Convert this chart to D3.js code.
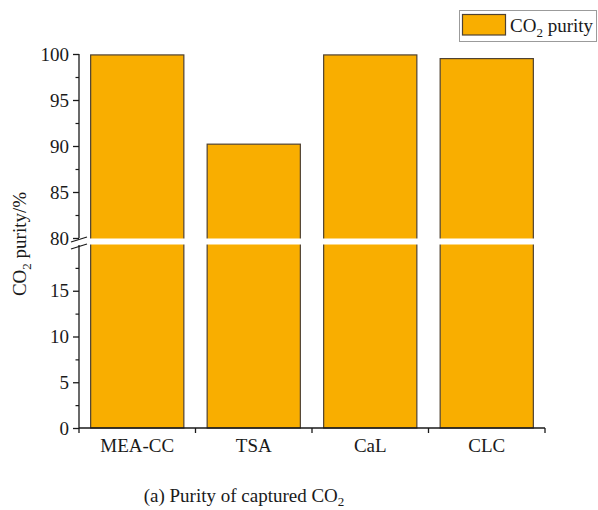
<!DOCTYPE html>
<html>
<head>
<meta charset="utf-8">
<script src="https://cdn.jsdelivr.net/npm/d3@7"></script>
<style>
  html, body { margin: 0; padding: 0; background: #fff; }
  svg { display: block; font-family: "Liberation Serif", "Times New Roman", serif; }
</style>
</head>
<body>
<svg id="chart" width="598" height="510"></svg>
<script>
// Purity of captured CO2 per capture technology
const categories = ["MEA-CC", "TSA", "CaL", "CLC"];
const purity = [99.9, 90.2, 99.9, 99.5];
const upperTicks = [80, 85, 90, 95, 100];
const lowerTicks = [0, 5, 10, 15];
const upperMinor = [82.5, 87.5, 92.5, 97.5];
const lowerMinor = [2.5, 7.5, 12.5, 17.5];

const svg = d3.select("#chart");
const FILL = "#F9AE00", EDGE = "#4f4232", INK = "#1a1a1a";
const FONT = 19;

const x0 = 79, x1 = 545;
const yBottom = 428, yTop = 54, gapTop = 238, gapBottom = 245;

// broken axis: 0–20 below the gap, 80–100 above it
const y = d3.scaleLinear().domain([0, 20, 80, 100]).range([yBottom, gapBottom, gapTop, yTop]);
const yUpper = d3.scaleLinear().domain([80, 100]).range([gapTop, yTop]);
const yLower = d3.scaleLinear().domain([0, 20]).range([yBottom, gapBottom]);

const x = d3.scaleBand().domain(categories).range([x0, x1]).paddingInner(0.2).paddingOuter(0.1);

// bars
svg.append("g").selectAll("rect").data(categories).join("rect")
  .attr("x", d => x(d))
  .attr("y", (d, i) => y(purity[i]))
  .attr("width", x.bandwidth())
  .attr("height", (d, i) => y(0) - y(purity[i]))
  .attr("fill", FILL)
  .attr("stroke", EDGE)
  .attr("stroke-width", 1.2);

// white band marking the break
svg.append("rect")
  .attr("x", x0 + 3).attr("y", y(80) + 0.5)
  .attr("width", x1 - x0).attr("height", y(20) - y(80) - 1)
  .attr("fill", "#fff");

// y axes (two segments)
function drawY(scale, ticks, minor) {
  const g = svg.append("g").attr("transform", `translate(${x0},0)`);
  g.append("line").attr("x1", 0).attr("x2", 0)
    .attr("y1", scale.range()[0]).attr("y2", scale.range()[1])
    .attr("stroke", INK).attr("stroke-width", 1.3);
  const ax = d3.axisLeft(scale).tickValues(ticks).tickSize(6).tickPadding(4).tickFormat(d3.format("d"));
  const a = g.append("g").call(ax).attr("font-family", null);
  a.select(".domain").remove();
  a.selectAll("line").attr("stroke", INK).attr("stroke-width", 1.3);
  a.selectAll("text").attr("font-size", FONT).attr("fill", INK);
  const m = g.append("g").call(d3.axisLeft(scale).tickValues(minor).tickSize(3.5).tickFormat(""));
  m.select(".domain").remove();
  m.selectAll("line").attr("stroke", INK).attr("stroke-width", 1.2);
}
drawY(yUpper, upperTicks, upperMinor);
drawY(yLower, lowerTicks, lowerMinor);

// break marks on the y axis
const slash = svg.append("g").attr("stroke", INK).attr("stroke-width", 1.3);
[y(80) + 1.5, y(20) + 1.5].forEach(cy => {
  slash.append("line").attr("x1", x0 - 8).attr("y1", cy + 2.5).attr("x2", x0 + 8).attr("y2", cy - 2.5);
});

// x axis
const gx = svg.append("g").attr("transform", `translate(0,${yBottom})`);
gx.append("line").attr("x1", x0).attr("x2", x1).attr("y1", 0).attr("y2", 0)
  .attr("stroke", INK).attr("stroke-width", 1.3);
const bounds = d3.range(categories.length + 1).map(i => x0 + i * x.step());
gx.selectAll("line.tk").data(bounds).join("line").attr("class", "tk")
  .attr("x1", d => d).attr("x2", d => d).attr("y1", 0).attr("y2", 5)
  .attr("stroke", INK).attr("stroke-width", 1.3);
gx.selectAll("text").data(categories).join("text")
  .attr("x", d => x(d) + x.bandwidth() / 2).attr("y", 24)
  .attr("text-anchor", "middle").attr("font-size", FONT).attr("fill", INK)
  .text(d => d);

// y-axis title
const yt = svg.append("text")
  .attr("transform", `translate(26,244) rotate(-90)`)
  .attr("text-anchor", "middle").attr("font-size", FONT).attr("fill", INK);
yt.append("tspan").text("CO");
yt.append("tspan").attr("font-size", 13).attr("dy", 5).text("2");
yt.append("tspan").attr("dy", -5).text(" purity/%");

// legend
const lg = svg.append("g");
lg.append("rect").attr("x", 459.5).attr("y", 10.5).attr("width", 137).attr("height", 31)
  .attr("fill", "#fff").attr("stroke", "#9b9b9b").attr("stroke-width", 1);
lg.append("rect").attr("x", 462.5).attr("y", 14.5).attr("width", 43).attr("height", 20.5)
  .attr("fill", FILL).attr("stroke", EDGE).attr("stroke-width", 1.2);
const lt = lg.append("text").attr("x", 510).attr("y", 32).attr("font-size", FONT).attr("fill", INK);
lt.append("tspan").text("CO");
lt.append("tspan").attr("font-size", 13).attr("dy", 5).text("2");
lt.append("tspan").attr("dy", -5).text(" purity");

// caption
const cap = svg.append("text").attr("x", 244).attr("y", 502)
  .attr("text-anchor", "middle").attr("font-size", FONT).attr("fill", INK);
cap.append("tspan").text("(a) Purity of captured CO");
cap.append("tspan").attr("font-size", 13).attr("dy", 4).text("2");
</script>
</body>
</html>
